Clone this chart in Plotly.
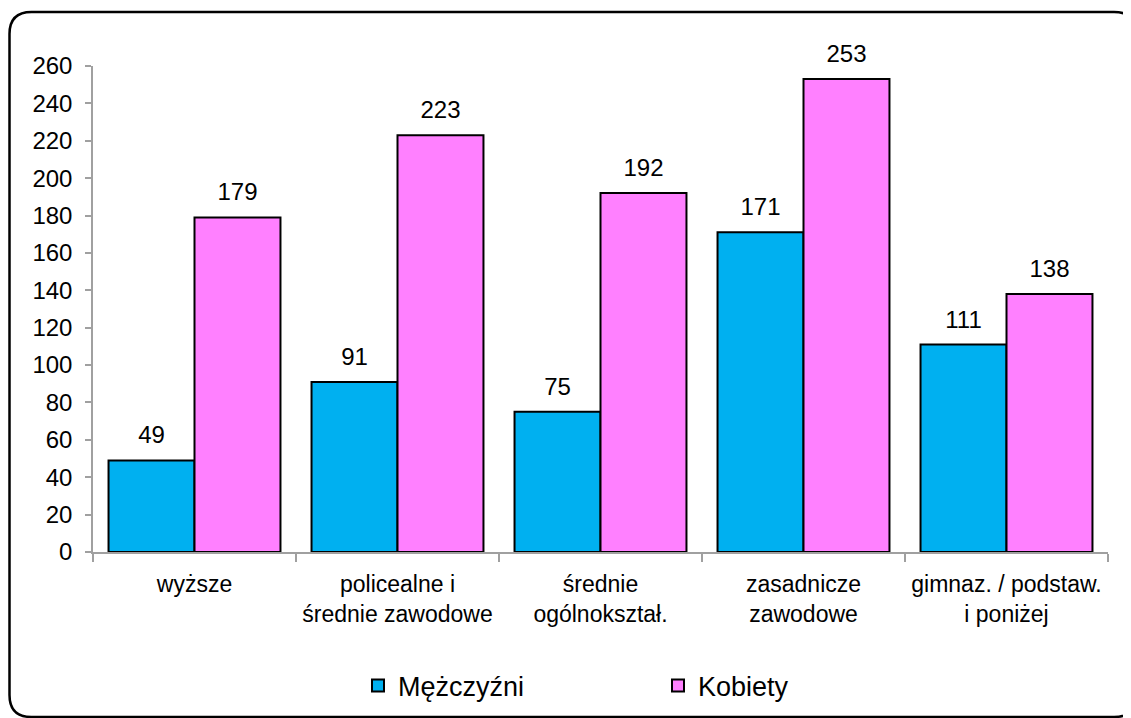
import plotly.graph_objects as go

categories = ["wyższe", "policealne i<br>średnie zawodowe", "średnie<br>ogólnokształ.",
              "zasadnicze<br>zawodowe", "gimnaz. / podstaw.<br>i poniżej"]
men = [49, 91, 75, 171, 111]
women = [179, 223, 192, 253, 138]
series_names = ["Mężczyźni", "Kobiety"]
y_ticks = list(range(0, 261, 20))

OFF = 8  # page body margin
W, H = 1123, 710
L, T = 93 - OFF, 66 - OFF
R = W - (1108 - OFF)
B = H - (552 - OFF)
pw, ph = W - L - R, H - T - B

def px(x):
    return (x - OFF - L) / pw

def py(y):
    return (H - B - (y - OFF)) / ph

FONT = "Liberation Sans, Arial, sans-serif"
GAP = 0.153

fig = go.Figure()
cols = ["#00B0F0", "#FF80FF"]
for name, vals, col in [(series_names[0], men, cols[0]), (series_names[1], women, cols[1])]:
    fig.add_trace(go.Bar(
        x=categories, y=vals, name=name,
        marker=dict(color=col, line=dict(color="#000000", width=2)),
    ))
for name, vals in [(series_names[0], men), (series_names[1], women)]:
    fig.add_trace(go.Scatter(
        x=categories, y=vals, mode="markers+text", text=vals, textposition="top center",
        marker=dict(size=16, color="rgba(0,0,0,0)"), showlegend=False, hoverinfo="skip",
        textfont=dict(family=FONT, size=24, color="#000000"), cliponaxis=False,
    ))

# rounded border around the chart area
x0, y0, x1, y1, r = 9.5, 12, 1136, 717, 22
path = (f"M {px(x0)},{py(y0 + r)} L {px(x0)},{py(y1 - r)} "
        f"Q {px(x0)},{py(y1)} {px(x0 + r)},{py(y1)} L {px(x1 - r)},{py(y1)} "
        f"Q {px(x1)},{py(y1)} {px(x1)},{py(y1 - r)} L {px(x1)},{py(y0 + r)} "
        f"Q {px(x1)},{py(y0)} {px(x1 - r)},{py(y0)} L {px(x0 + r)},{py(y0)} "
        f"Q {px(x0)},{py(y0)} {px(x0)},{py(y0 + r)} Z")

fig.update_layout(
    width=W, height=H,
    margin=dict(l=L, r=R, t=T, b=B, autoexpand=False),
    paper_bgcolor="white", plot_bgcolor="white",
    font=dict(family=FONT, size=24, color="#000000"),
    barmode="group", bargap=GAP, bargroupgap=0,
    scattermode="group", scattergap=GAP,
    showlegend=True,
    legend=dict(orientation="h", x=px(358), xanchor="left", y=py(686), yanchor="middle",
                font=dict(family=FONT, size=27, color="#000000"),
                entrywidth=255, entrywidthmode="pixels", traceorder="normal"),
    shapes=[dict(type="path", xref="paper", yref="paper", path=path,
                 line=dict(color="#000000", width=2.5), fillcolor="rgba(0,0,0,0)", layer="below")],
    xaxis=dict(showline=True, linecolor="#A0A0A0", linewidth=1.5, ticks="outside",
               tickson="boundaries", ticklen=8, tickcolor="#A0A0A0", tickwidth=1.5,
               showgrid=False, tickfont=dict(family=FONT, size=23, color="#000000"),
               tickangle=0, ticklabelstandoff=11),
    yaxis=dict(range=[0, 260], tickvals=y_ticks, showline=True, linecolor="#A0A0A0",
               linewidth=1.5, ticks="outside", ticklen=6, tickcolor="#A0A0A0", tickwidth=1.5,
               showgrid=False, zeroline=False, tickfont=dict(family=FONT, size=24, color="#000000"),
               ticklabelstandoff=8),
)

fig.write_html("out.html")
